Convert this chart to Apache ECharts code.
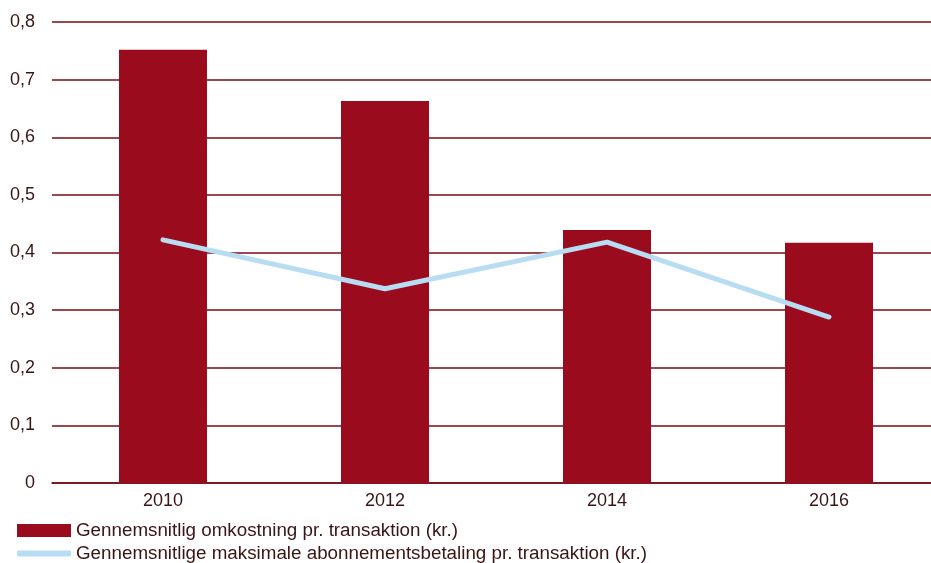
<!DOCTYPE html>
<html>
<head>
<meta charset="utf-8">
<script src="https://cdn.jsdelivr.net/npm/echarts@6/dist/echarts.min.js"></script>
<style>
  html, body { margin: 0; padding: 0; background: #fff; overflow: hidden; }
  #chart { width: 940px; height: 563px; }
</style>
</head>
<body>
<div id="chart"></div>
<script>
var years = ['2010', '2012', '2014', '2016'];
var omkostning = [0.752, 0.663, 0.439, 0.417];
var abonnement = [0.422, 0.337, 0.418, 0.288];
var yTicks = [0, 0.1, 0.2, 0.3, 0.4, 0.5, 0.6, 0.7, 0.8];

var barName = 'Gennemsnitlig omkostning pr. transaktion (kr.)';
var lineName = 'Gennemsnitlige maksimale abonnementsbetaling pr. transaktion (kr.)';

var textColor = '#3a1515';
var myChart = echarts.init(document.getElementById('chart'));

myChart.setOption({
  animation: false,
  textStyle: { fontFamily: 'Liberation Sans, Arial, sans-serif' },
  grid: { left: 52, top: 22, right: 0, bottom: 80, containLabel: false },
  legend: [
    {
      data: [{ name: barName, icon: 'rect' }],
      left: 12, top: 516,
      itemWidth: 54, itemHeight: 13,
      textStyle: { color: textColor, fontSize: 18.8 }
    },
    {
      data: [{ name: lineName, icon: 'roundRect' }],
      left: 12, top: 539,
      itemWidth: 54, itemHeight: 6,
      textStyle: { color: textColor, fontSize: 18.8 }
    }
  ],
  xAxis: {
    type: 'category',
    data: years,
    axisLine: { show: true, lineStyle: { color: '#7a0a12', width: 1.5 } },
    axisTick: { show: false },
    axisLabel: { color: textColor, fontSize: 18, margin: 9 }
  },
  yAxis: {
    type: 'value',
    min: 0, max: 0.8, interval: 0.1,
    axisLine: { show: false },
    axisTick: { show: false },
    splitLine: { lineStyle: { color: '#7a0a12', width: 1.5 } },
    axisLabel: {
      color: textColor, fontSize: 18, margin: 17,
      formatter: function (v) {
        var t = yTicks.find(function (y) { return Math.abs(y - v) < 1e-6; });
        return t === 0 ? '0' : (t !== undefined ? t.toFixed(1).replace('.', ',') : '');
      }
    }
  },
  series: [
    {
      name: barName,
      type: 'bar',
      data: omkostning,
      barWidth: 88,
      itemStyle: { color: '#9b0b1e' },
      z: 3
    },
    {
      name: lineName,
      type: 'line',
      data: abonnement,
      symbol: 'none',
      lineStyle: { color: '#b8dcf2', width: 5, cap: 'round' },
      itemStyle: { color: '#b8dcf2' },
      z: 4
    }
  ]
});
</script>
</body>
</html>
